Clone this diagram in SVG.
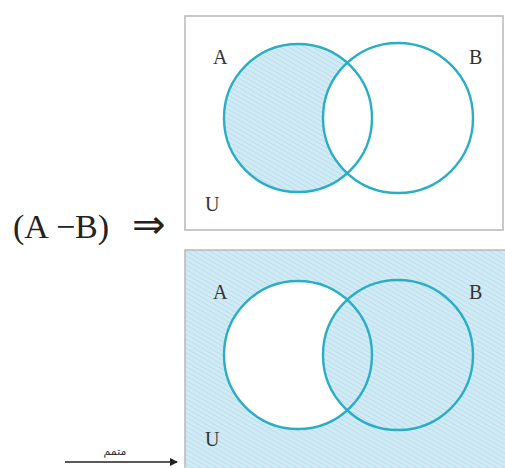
<svg xmlns="http://www.w3.org/2000/svg" width="505" height="468" viewBox="0 0 505 468">
<style>
.lbl{font-family:"Liberation Serif","DejaVu Serif",serif;font-size:20px;fill:#333}
.big{font-family:"Liberation Serif","DejaVu Serif",serif;font-size:34px;fill:#222}
.ring{fill:none;stroke:#2aaec6;stroke-width:2.4}
.box{stroke:#b8b8b8;stroke-width:1.5}
</style>
<defs>
<pattern id="hatch" width="4" height="4" patternUnits="userSpaceOnUse" patternTransform="rotate(30)">
<rect width="4" height="4" fill="#d0ebf5"/>
<line x1="0" y1="0.5" x2="4" y2="0.5" stroke="#bcdeeb" stroke-width="1"/>
</pattern>
<marker id="ah" markerWidth="8" markerHeight="8" refX="7" refY="4" orient="auto" markerUnits="userSpaceOnUse">
<path d="M0,0 L8,4 L0,8 Z" fill="#222"/>
</marker>
</defs>
<rect width="505" height="468" fill="#fff"/>
<g id="top-diagram">
<rect class="box" x="185" y="16" width="318" height="214" fill="#fff"/>
<circle cx="298" cy="118" r="74" fill="url(#hatch)"/>
<circle cx="398" cy="118" r="75" fill="#fff"/>
<circle class="ring" cx="298" cy="118" r="74"/>
<circle class="ring" cx="398" cy="118" r="75"/>
<text class="lbl" x="213" y="64">A</text>
<text class="lbl" x="469" y="64">B</text>
<text class="lbl" x="205" y="211">U</text>
</g>
<g id="bottom-diagram">
<rect class="box" x="185" y="250" width="322" height="222" fill="url(#hatch)"/>
<circle cx="298" cy="355" r="74" fill="#fff"/>
<circle cx="398" cy="355" r="75" fill="url(#hatch)"/>
<circle class="ring" cx="298" cy="355" r="74"/>
<circle class="ring" cx="398" cy="355" r="75"/>
<text class="lbl" x="213" y="299">A</text>
<text class="lbl" x="469" y="299">B</text>
<text class="lbl" x="205" y="446">U</text>
</g>
<g id="label">
<text class="big" x="13" y="238">(A<tspan x="56">−</tspan><tspan x="75">B)</tspan></text>
<text x="132" y="238" font-family="DejaVu Sans, sans-serif" font-size="40" fill="#222">⇒</text>
</g>
<g id="connectors">
<line x1="65" y1="462" x2="177" y2="462" stroke="#222" stroke-width="1.5" marker-end="url(#ah)"/>
<text x="115" y="455" font-family="Noto Sans, DejaVu Sans, sans-serif" font-size="11" fill="#333" text-anchor="middle">متمم</text>
</g>
</svg>
